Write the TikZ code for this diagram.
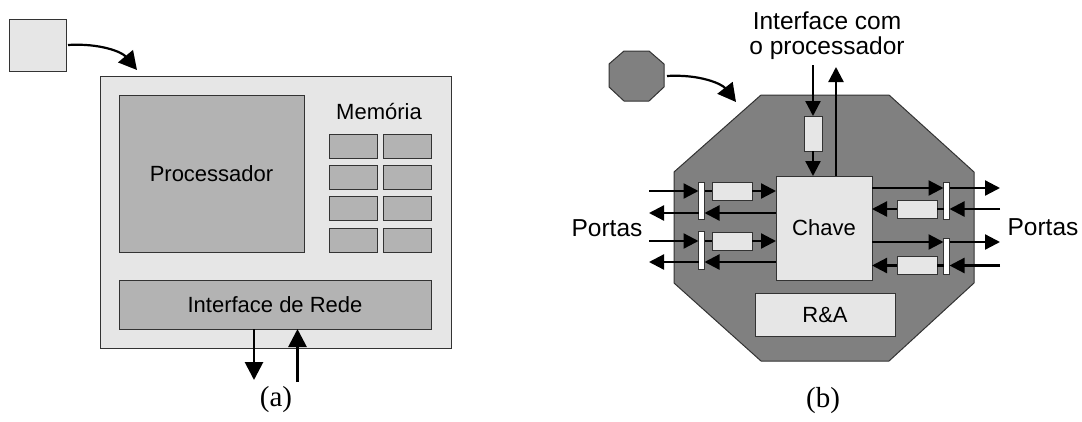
\documentclass[tikz,border=0pt]{standalone}
\usepackage{fontspec}
\setmainfont{Liberation Sans}
\newfontfamily\capfont{Liberation Serif}
\usetikzlibrary{arrows.meta}

\definecolor{panel}{HTML}{E6E6E6}
\definecolor{cpu}{HTML}{B3B3B3}
\definecolor{chip}{HTML}{808080}
\definecolor{edge}{HTML}{333333}

\tikzset{
  outline/.style={draw=edge, line width=1pt},
  blk/.style={outline, inner sep=0pt, outer sep=0pt},
  lite/.style={blk, fill=panel},
  mid/.style={blk, fill=cpu},
  bar/.style={blk, fill=white, minimum width=6pt},
  buf/.style={lite, minimum width=40pt, minimum height=18pt},
  cell/.style={mid, minimum width=48pt, minimum height=24pt},
  lbl/.style={font=\fontsize{22}{24}\selectfont},
  biglbl/.style={font=\fontsize{24.5}{25}\selectfont, inner sep=0pt},
  caption/.style={font=\capfont\fontsize{29}{30}\selectfont},
  wire/.style={line width=2.3pt},
  pa/.style={wire, -{Triangle[length=15pt,width=15pt]}},
  ba/.style={line width=2.8pt, -{Triangle[length=18pt,width=18pt]}},
  ca/.style={line width=2.2pt, -{Triangle[length=18pt,width=19pt]}},
}

\begin{document}
\begin{tikzpicture}[x=1pt,y=-1pt]
\useasboundingbox (0,0) rectangle (1082,421);

% ---------- (a) processing node ----------
\node[lite, minimum width=57pt, minimum height=52pt] (sq) at (37.5,45) {};
\node[lite, minimum width=351pt, minimum height=272pt] (main) at (275.5,212) {};
\node[mid, lbl, minimum width=185pt, minimum height=157pt] (proc) at (211.5,173.5) {Processador};
\node[lbl] (memlbl) at (379,112) {Memória};
\foreach \r/\y in {1/146,2/177,3/208.5,4/240}{
  \node[cell] (m\r a) at (353,\y) {};
  \node[cell] (m\r b) at (407,\y) {};
}
\node[mid, lbl, minimum width=312pt, minimum height=49pt] (net) at (275,304.5) {Interface de Rede};

\coordinate (mainTip) at (137,70);
\draw[ca] ([xshift=2pt]sq.east) .. controls +(32,-2) and +(-15,-18) .. (mainTip);

\coordinate (netout) at (254,380);
\coordinate (netin) at (297.5,382);
\draw[ba] (net.south -| netout) -- (netout);
\draw[ba] (netin) -- (net.south -| netin);

\node[caption] (capa) at (276,400) {(a)};

% ---------- (b) router ----------
\draw[outline, fill=chip] (624,51) -- (649,51) -- (664,64) -- (664,87) -- (649,101)
  -- (624,101) -- (609,87) -- (609,64) -- cycle;
\coordinate (soE) at (667,76);
\coordinate (chipTip) at (736,102);
\draw[ca] (soE) .. controls +(33,-2) and +(-14,-18) .. (chipTip);

\draw[outline, fill=chip] (761,95) -- (889,95) -- (974,172) -- (974,283) -- (889,361)
  -- (761,361) -- (674,283) -- (674,172) -- cycle;

\node[lite, lbl, minimum width=96pt, minimum height=104pt] (chave) at (824,228) {Chave};
\node[lite, lbl, minimum width=140pt, minimum height=43pt] (ra) at (825,314.5) {R\&A};
\node[lite, minimum width=18pt, minimum height=35pt] (topbuf) at (813,133.5) {};

% left ports
\node[bar, minimum height=37pt] (barL1) at (701.5,200.5) {};
\node[bar, minimum height=38pt] (barL2) at (701.5,250) {};
\node[buf] (bufL1) at (732,191) {};
\node[buf] (bufL2) at (732,241) {};

% right ports
\node[bar, minimum height=37pt] (barR1) at (946.5,200.5) {};
\node[bar, minimum height=36pt] (barR2) at (946.5,256) {};
\node[buf] (bufR1) at (917,209) {};
\node[buf] (bufR2) at (917,265.5) {};

% processor interface
\coordinate (pin) at (813,65);
\coordinate (pout) at (836,67);
\draw[pa] (pin) -- (topbuf.north);
\draw[pa] (topbuf.south) -- (topbuf.south |- chave.north);
\draw[pa] (pout |- chave.north) -- (pout);

% left port links
\coordinate (li1) at (649,191);
\coordinate (lo1) at (649,213);
\coordinate (li2) at (649,241);
\coordinate (lo2) at (649,262);
\foreach \n in {1,2}{
  \draw[pa] (li\n) -- (li\n -| barL\n.west);
  \draw[wire] (li\n -| barL\n.east) -- (bufL\n.west);
  \draw[pa] (bufL\n.east) -- (bufL\n.east -| chave.west);
  \draw[pa] (lo\n -| chave.west) -- (lo\n -| barL\n.east);
  \draw[pa] (lo\n -| barL\n.west) -- (lo\n);
}

% right port links
\coordinate (ro1) at (1000,188);
\coordinate (ri1) at (1000,209);
\coordinate (ro2) at (1000,242);
\coordinate (ri2) at (1000,265.5);
\foreach \n in {1,2}{
  \draw[pa] (ro\n -| chave.east) -- (ro\n -| barR\n.west);
  \draw[pa] (ro\n -| barR\n.east) -- (ro\n);
  \draw[pa] (ri\n) -- (ri\n -| barR\n.east);
  \draw[wire] (ri\n -| barR\n.west) -- (bufR\n.east);
  \draw[pa] (bufR\n.west) -- (bufR\n.west -| chave.east);
}

\node[biglbl, align=center, anchor=north] (iflbl) at (827,12) {Interface com\\o processador};
\node[biglbl] (portL) at (607,228) {Portas};
\node[biglbl] (portR) at (1043,227) {Portas};

\node[caption] (capb) at (823,401) {(b)};
\end{tikzpicture}
\end{document}
